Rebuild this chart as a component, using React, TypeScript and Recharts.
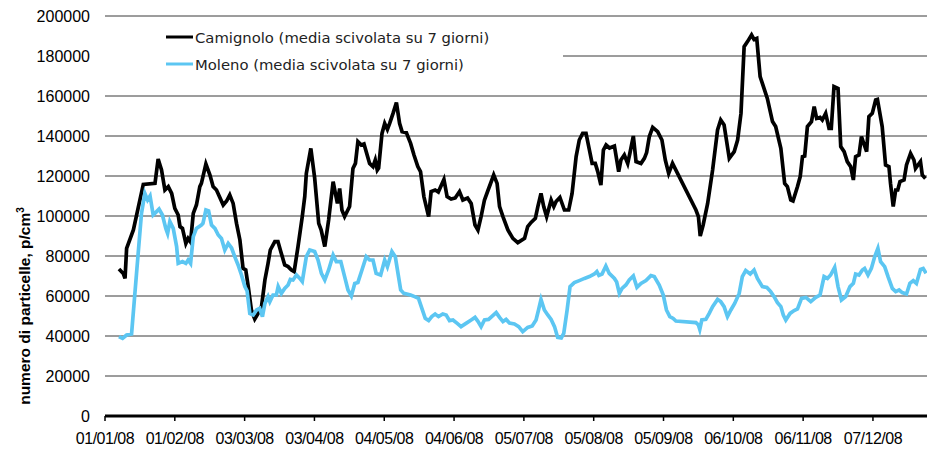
import React from "react";
import { LineChart, Line, XAxis, YAxis, CartesianGrid, Legend } from "recharts";

// 7-day rolling mean of particle counts, 2008 (x = day of year, 0 = 1 Jan)
const tickDays = [0, 31, 62, 93, 124, 155, 186, 217, 248, 279, 310, 341];
const tickLabels = [
  "01/01/08", "01/02/08", "03/03/08", "03/04/08", "04/05/08", "04/06/08",
  "05/07/08", "05/08/08", "05/09/08", "06/10/08", "06/11/08", "07/12/08",
];
const yTicks = [0, 20000, 40000, 60000, 80000, 100000, 120000, 140000, 160000, 180000, 200000];

const camignoloDays = [
  6.2, 8.1, 8.9, 9.6, 12.6, 17.0, 22.2, 23.6, 25.1, 26.6, 28.1, 29.6, 31.0, 32.5, 33.3, 34.4,
  35.9, 36.9, 38.0, 39.2, 40.6, 42.1, 42.8, 44.8, 46.6, 48.0, 49.5, 52.5, 54.0, 55.4, 56.9,
  58.4, 59.9, 61.3, 62.5, 63.6, 65.0, 66.5, 68.0, 69.5, 71.0, 72.4, 73.4, 75.4, 76.8, 78.3,
  79.8, 81.3, 82.8, 84.0, 85.7, 87.6, 88.7, 89.4, 91.4, 93.1, 94.9, 96.0, 97.6, 99.3, 101.3,
  102.3, 103.2, 104.2, 105.2, 106.4, 108.6, 110.1, 111.2, 112.3, 113.8, 115.0, 117.5, 119.0,
  120.0, 120.9, 121.5, 123.0, 124.2, 125.4, 126.4, 127.9, 129.4, 130.8, 131.9, 133.8, 135.7,
  137.2, 138.9, 140.1, 141.6, 143.7, 144.8, 146.6, 148.0, 150.5, 151.9, 153.7, 155.5, 157.4,
  158.9, 161.0, 162.6, 164.3, 165.6, 167.0, 168.5, 169.8, 172.6, 174.1, 175.2, 176.7, 178.9,
  181.1, 183.3, 186.3, 187.7, 189.2, 191.1, 192.2, 193.6, 194.8, 196.1, 198.1, 199.3, 200.3,
  202.0, 204.0, 205.9, 207.4, 209.2, 210.6, 212.1, 213.6, 215.1, 216.3, 217.7, 218.8, 220.2,
  221.3, 222.5, 224.0, 226.2, 228.1, 229.1, 230.6, 232.1, 233.0, 234.6, 235.8, 238.0, 239.5,
  240.5, 241.7, 243.2, 245.4, 247.3, 248.8, 250.3, 252.0, 262.4, 263.5, 264.3, 265.6, 267.6,
  269.8, 272.0, 273.4, 274.9, 277.2, 279.4, 280.9, 282.4, 283.8, 285.3, 287.1, 288.2, 289.4,
  290.9, 291.9, 294.1, 296.4, 297.8, 300.1, 301.8, 303.0, 304.5, 305.5, 307.5, 308.7, 309.7,
  310.7, 311.9, 313.7, 314.9, 316.0, 317.5, 318.5, 320.0, 321.5, 322.5, 323.7, 325.5, 326.7,
  328.2, 329.6, 331.1, 332.3, 333.3, 334.8, 335.9, 337.0, 338.2, 339.2, 340.7, 342.2, 343.0,
  345.1, 346.6, 348.1, 348.8, 350.0, 351.1, 352.0, 353.0, 354.8, 355.9, 357.7, 359.2, 359.9,
  361.0, 362.1, 362.9, 364.3,
];
const camignoloValues = [
  73500, 71300, 68800, 83800, 93000, 115800, 116300, 128500, 123000, 113000, 114700, 111300,
  103800, 100500, 94700, 93800, 86300, 88800, 87000, 101300, 105500, 114700, 116300, 126000,
  120500, 114700, 113000, 105500, 107500, 110500, 106300, 96300, 88000, 73800, 73000, 64700,
  53000, 48500, 51300, 54700, 68000, 76300, 83000, 87200, 87200, 81300, 75500, 74700, 73000,
  72200, 84700, 99700, 109700, 121300, 133800, 119000, 96300, 93000, 84700, 98000, 117200,
  111300, 106300, 113800, 103000, 99700, 104700, 123800, 126300, 137200, 135500, 136000,
  126300, 124700, 128000, 123000, 124000, 141300, 146300, 143300, 146300, 151300, 156700,
  146300, 142200, 141700, 136300, 130500, 124700, 122200, 109700, 99700, 112200, 113000,
  112000, 118300, 109700, 108500, 109000, 112200, 108000, 109000, 106300, 95500, 93000, 99700,
  108000, 112000, 120500, 116300, 104700, 99700, 93000, 88800, 86700, 88800, 94700, 96800,
  98800, 104700, 111300, 104700, 99700, 108000, 104700, 107200, 109300, 103000, 103000,
  111300, 129700, 138000, 141300, 141300, 133000, 126300, 126300, 122200, 115500, 133000,
  135500, 134000, 135000, 122200, 128000, 130500, 126300, 131000, 140000, 127200, 126300,
  128800, 131700, 139700, 144300, 142200, 138000, 128000, 121300, 126300, 103000, 99700, 90000,
  95500, 106300, 123000, 143000, 148000, 145500, 128800, 132200, 138000, 151300, 184700,
  187200, 190500, 188300, 188800, 169700, 166300, 158800, 147200, 144700, 133800, 116300,
  114700, 108000, 107500, 114700, 119700, 129700, 130000, 144700, 147200, 154700, 148800,
  149300, 148000, 151300, 143800, 143800, 164700, 163800, 134700, 132200, 127200, 124700,
  118000, 129700, 130500, 139700, 136000, 132200, 149700, 151300, 158000, 158300, 144700,
  125500, 124700, 116300, 104700, 113000, 113000, 117200, 118000, 125500, 131300, 128000,
  123800, 125500, 127200, 120500, 118800,
];

const molenoDays = [
  6.2, 7.8, 9.6, 11.8, 14.0, 16.2, 17.7, 18.9, 20.0, 21.4, 22.9, 24.0, 25.5, 27.0, 27.8, 28.8,
  30.3, 31.8, 32.5, 34.4, 35.9, 36.9, 38.0, 39.2, 40.6, 42.8, 43.5, 44.8, 46.0, 47.3, 48.8,
  50.3, 51.7, 53.2, 54.7, 56.2, 57.6, 59.1, 60.6, 62.1, 63.1, 64.3, 65.8, 67.3, 68.7, 69.9,
  71.0, 72.4, 73.2, 74.6, 76.1, 76.9, 78.3, 79.8, 81.3, 82.3, 83.5, 85.0, 86.5, 87.6, 89.4,
  90.9, 93.1, 94.6, 96.1, 97.6, 99.3, 101.3, 102.7, 104.7, 106.4, 107.9, 109.4, 110.9, 112.3,
  114.1, 116.0, 117.5, 119.0, 120.4, 122.4, 124.2, 125.4, 127.4, 128.9, 130.1, 131.3, 132.7,
  135.7, 137.5, 139.2, 140.7, 142.2, 143.7, 145.1, 146.6, 148.1, 150.0, 151.5, 153.0, 154.5,
  156.4, 158.1, 160.3, 162.6, 164.3, 165.6, 167.0, 168.5, 170.3, 171.7, 173.7, 175.2, 176.7,
  178.1, 179.6, 181.8, 183.7, 185.5, 187.7, 189.7, 191.4, 192.5, 193.6, 195.1, 196.6, 198.1,
  199.6, 201.0, 202.6, 203.7, 205.2, 206.5, 208.4, 210.6, 212.9, 215.1, 217.3, 218.4, 219.3,
  220.7, 222.4, 223.9, 226.2, 227.2, 228.4, 229.6, 231.3, 232.8, 234.6, 236.2, 238.0, 240.2,
  242.4, 243.9, 246.1, 247.9, 249.3, 250.8, 252.3, 253.5, 262.4, 263.5, 264.1, 265.0, 266.8,
  268.3, 269.8, 272.0, 273.4, 274.9, 276.4, 277.9, 279.6, 281.6, 283.0, 284.5, 286.5, 288.2,
  289.7, 291.9, 293.9, 295.6, 297.1, 298.6, 300.1, 301.2, 302.3, 304.2, 306.0, 307.5, 309.3,
  311.2, 313.4, 315.6, 317.5, 319.3, 320.8, 322.2, 324.0, 325.5, 327.0, 328.9, 330.8, 332.3,
  333.3, 334.8, 336.3, 337.3, 338.8, 340.3, 341.8, 343.2, 344.4, 346.2, 347.7, 349.6, 351.1,
  352.6, 354.0, 355.9, 357.4, 358.9, 360.3, 362.1, 363.3, 364.6,
];
const molenoValues = [
  39700, 38800, 40500, 41000, 71300, 101300, 111300, 108000, 110000, 100500, 102200, 103500,
  100500, 93800, 91300, 97200, 93800, 84700, 76300, 77200, 76300, 78000, 76300, 89700, 93800,
  95500, 96300, 103000, 102500, 95500, 93800, 90500, 88800, 83000, 86300, 84000, 79700, 75500,
  70500, 64700, 62500, 51300, 50500, 53000, 53800, 49700, 56300, 59700, 57200, 60500, 60500,
  64700, 61300, 63800, 65500, 68300, 68000, 70500, 68800, 67200, 79700, 83000, 82200, 78000,
  71300, 68000, 73000, 80500, 77200, 77200, 69700, 63000, 60000, 66300, 66800, 73000, 79700,
  78000, 78000, 71300, 70500, 78000, 74700, 82200, 79700, 71300, 63000, 61300, 60500, 59700,
  58800, 53800, 48800, 47700, 49700, 51000, 49700, 51000, 50500, 47700, 48000, 46300, 44700,
  46300, 48000, 49300, 47300, 44700, 48000, 48300, 49700, 51700, 49300, 47200, 48300, 46500,
  46000, 44700, 42200, 44300, 45000, 48000, 53000, 58300, 53000, 50500, 48300, 44700, 39300,
  39000, 41300, 53000, 64700, 66700, 67700, 68800, 69700, 71000, 72200, 70300, 71000, 75000,
  71300, 68800, 67000, 61300, 63800, 65500, 68000, 70000, 64300, 66300, 67700, 70200, 69700,
  65500, 60500, 53000, 49700, 48800, 47500, 46700, 45500, 43300, 48000, 48300, 51300, 54700,
  58300, 57200, 54700, 49700, 53000, 56300, 61300, 69700, 72700, 71000, 73000, 68800, 64700,
  64300, 62200, 59700, 56700, 54700, 50500, 48000, 51300, 52700, 53500, 58800, 59300, 57200,
  59300, 60500, 69700, 68800, 70500, 74300, 64700, 58000, 59700, 64700, 66300, 71000, 70500,
  73000, 73800, 70500, 73800, 79700, 83800, 77200, 74700, 69700, 63800, 62200, 63000, 61700,
  61000, 66300, 67700, 66300, 73300, 73800, 71300,
];

const camignolo = camignoloDays.map((d, i) => ({ d, v: camignoloValues[i] }));
const moleno = molenoDays.map((d, i) => ({ d, v: molenoValues[i] }));

const BLACK = "#000000";
const BLUE = "#5cc6f2";
const ARIAL = "'Liberation Sans', Arial, sans-serif";

const legendItems = [
  { label: "Camignolo (media scivolata su 7 giorni)", color: BLACK, top: 6 },
  { label: "Moleno (media scivolata su 7 giorni)", color: BLUE, top: 33 },
];

function LegendBox() {
  return (
    <div style={{ position: "relative", width: "100%", height: "100%", background: "#fff" }}>
      {legendItems.map((it) => (
        <div
          key={it.label}
          style={{
            position: "absolute",
            left: 62,
            top: it.top,
            height: 18,
            display: "flex",
            alignItems: "center",
            whiteSpace: "nowrap",
          }}
        >
          <svg width={27} height={4} style={{ display: "block" }}>
            <line x1={0} y1={2} x2={27} y2={2} stroke={it.color} strokeWidth={3} />
          </svg>
          <span
            style={{
              marginLeft: 2,
              fontFamily: "'DejaVu Sans', Verdana, sans-serif",
              fontSize: 14.8,
              color: "#222",
            }}
          >
            {it.label}
          </span>
        </div>
      ))}
    </div>
  );
}

function YTitle() {
  return (
    <text
      x={30}
      y={306}
      transform="rotate(-90 30 306)"
      textAnchor="middle"
      fontFamily={ARIAL}
      fontWeight="bold"
      fontSize={15.5}
      fill="#000"
    >
      numero di particelle, p/cm
      <tspan dy={-6} fontSize={10}>3</tspan>
    </text>
  );
}

export default function App() {
  return (
    <div style={{ position: "absolute", left: 0, top: 0, background: "#fff" }}>
      <LineChart width={930} height={450} margin={{ top: 16, right: 3, bottom: 4, left: 0 }}>
        <CartesianGrid vertical={false} stroke="#3a3a3a" strokeWidth={1} />
        <XAxis
          type="number"
          dataKey="d"
          domain={[0, 365]}
          ticks={tickDays}
          tickFormatter={(d: number) => tickLabels[tickDays.indexOf(d)] ?? ""}
          interval={0}
          height={30}
          axisLine={{ stroke: BLACK, strokeWidth: 3 }}
          tickLine={{ stroke: BLACK, strokeWidth: 1.5 }}
          tickSize={5}
          tickMargin={12}
          tick={{ fontSize: 16, fill: "#000", fontFamily: ARIAL, letterSpacing: -0.5 }}
          allowDataOverflow
        />
        <YAxis
          type="number"
          domain={[0, 200000]}
          ticks={yTicks}
          interval={0}
          width={105}
          axisLine={false}
          tickLine={false}
          tickSize={0}
          tickMargin={15}
          tick={{ fontSize: 16, fill: "#000", fontFamily: ARIAL }}
          label={{ content: () => <YTitle /> }}
        />
        <Legend
          layout="horizontal"
          verticalAlign="middle"
          align="center"
          content={() => <LegendBox />}
          wrapperStyle={{ left: 104, top: 22, width: 459, height: 54 }}
        />
        <Line
          data={camignolo}
          dataKey="v"
          type="linear"
          stroke={BLACK}
          strokeWidth={3.7}
          dot={false}
          activeDot={false}
          isAnimationActive={false}
          legendType="none"
        />
        <Line
          data={moleno}
          dataKey="v"
          type="linear"
          stroke={BLUE}
          strokeWidth={3.7}
          dot={false}
          activeDot={false}
          isAnimationActive={false}
          legendType="none"
        />
      </LineChart>
    </div>
  );
}
